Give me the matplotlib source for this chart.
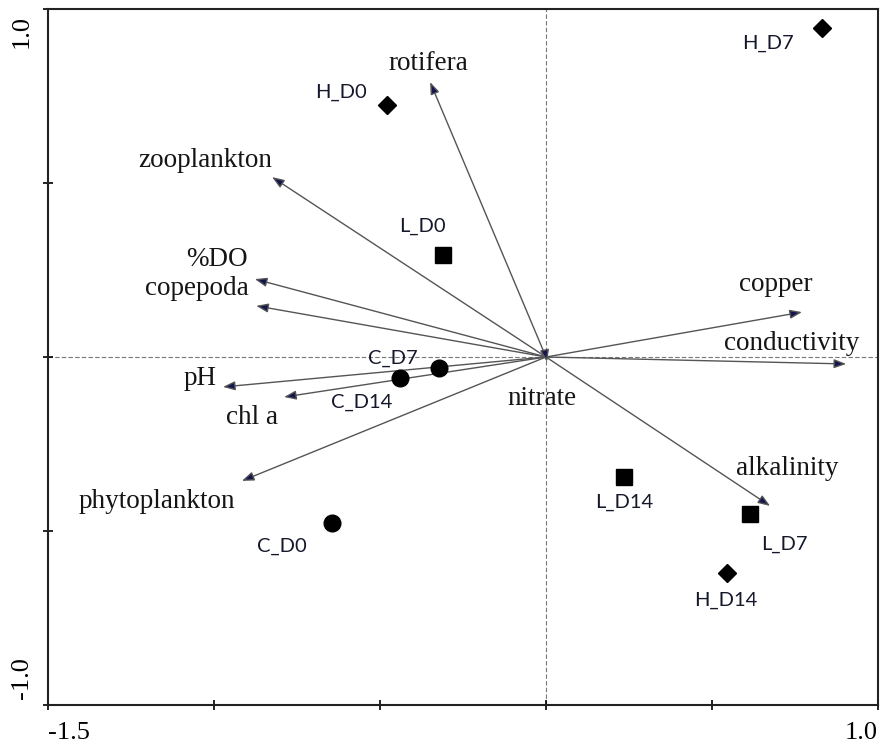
import numpy as np
import matplotlib.pyplot as plt

# environmental variables (arrow tips)
VAR_NAMES = ['rotifera', 'zooplankton', '%DO', 'copepoda', 'pH', 'chl a',
             'phytoplankton', 'copper', 'conductivity', 'alkalinity', 'nitrate']
VAR_X = [-0.349, -0.825, -0.877, -0.873, -0.973, -0.789, -0.916, 0.771, 0.904, 0.675, 0.003]
VAR_Y = [0.790, 0.517, 0.224, 0.147, -0.086, -0.115, -0.356, 0.129, -0.020, -0.428, -0.014]

# samples
SAMPLE_NAMES = ['H_D7', 'H_D0', 'L_D0', 'C_D7', 'C_D14', 'C_D0', 'L_D14', 'L_D7', 'H_D14']
SAMPLE_X = [0.831, -0.479, -0.310, -0.322, -0.440, -0.645, 0.235, 0.614, 0.545]
SAMPLE_Y = [0.945, 0.724, 0.293, -0.032, -0.060, -0.477, -0.345, -0.451, -0.621]

# label offsets in pixels (dx, dy) from arrow tip / sample point
VAR_OFFS = {'rotifera': (-2, 19), 'zooplankton': (-67, 17), '%DO': (-38, 20),
            'copepoda': (-59, 17), 'pH': (-23, 8), 'chl a': (-32, -20),
            'phytoplankton': (-85, -21), 'copper': (-26, 28), 'conductivity': (-54, 20),
            'alkalinity': (17, 37), 'nitrate': (-5, -37)}
SAMPLE_OFFS = {'H_D7': (-54, -15), 'H_D0': (-46, 13), 'L_D0': (-21, 29), 'C_D7': (-46, 10),
               'C_D14': (-38, -24), 'C_D0': (-50, -23), 'L_D14': (0, -25),
               'L_D7': (35, -30), 'H_D14': (-1, -27)}
MARKERS = {'H': ('D', 9), 'L': ('s', 12), 'C': ('o', 12)}

PX = 0.72  # px -> pt at dpi 100
SERIF = 'Liberation Serif'
SANS = 'Lato'

fig = plt.figure(figsize=(8.81, 7.45), dpi=100)
ax = fig.add_axes([48/881, 1-705/745, 830/881, 696/745])
ax.set_xlim(-1.5, 1.0)
ax.set_ylim(-1.0, 1.0)

ax.axhline(0, color='#777777', lw=0.8, ls=(0, (4, 2)), zorder=1)
ax.axvline(0, color='#777777', lw=0.8, ls=(0, (4, 2)), zorder=1)

for name, x, y in zip(VAR_NAMES, VAR_X, VAR_Y):
    ax.annotate('', xy=(x, y), xytext=(0, 0),
                arrowprops=dict(arrowstyle='-|>,head_length=0.8,head_width=0.3',
                                mutation_scale=9, lw=1.0, edgecolor='#555555',
                                facecolor='#141450', shrinkA=0, shrinkB=0), zorder=2)
    dx, dy = VAR_OFFS[name]
    ax.annotate(name, xy=(x, y), xytext=(dx*PX, dy*PX), textcoords='offset points',
                ha='center', va='center', fontsize=19.5, family=SERIF, color='#151515')

for name, x, y in zip(SAMPLE_NAMES, SAMPLE_X, SAMPLE_Y):
    m, ms = MARKERS[name[0]]
    ax.plot(x, y, marker=m, ms=ms, color='black', ls='none', zorder=3)
    dx, dy = SAMPLE_OFFS[name]
    ax.annotate(name, xy=(x, y), xytext=(dx*PX, dy*PX), textcoords='offset points',
                ha='center', va='center', fontsize=14.5, family=SANS, color='#15182a')

for s in ax.spines.values():
    s.set_linewidth(1.5)
    s.set_color('#222222')

ax.set_xticks(np.arange(-1.5, 1.01, 0.5))
ax.set_yticks(np.arange(-1.0, 1.01, 0.5))
ax.tick_params(direction='inout', length=7, width=1.2, labelbottom=False, labelleft=False)

# end labels only
ax.text(0.0, -0.025, '-1.5', transform=ax.transAxes, ha='left', va='top',
        fontsize=19, family=SERIF)
ax.text(1.0, -0.025, '1.0', transform=ax.transAxes, ha='right', va='top',
        fontsize=19, family=SERIF)
ax.text(-0.018, 0.992, '1.0', transform=ax.transAxes, ha='right', va='top',
        rotation=90, fontsize=19, family=SERIF)
ax.text(-0.018, 0.008, '-1.0', transform=ax.transAxes, ha='right', va='bottom',
        rotation=90, fontsize=19, family=SERIF)

fig.savefig('out.png', dpi=100)
